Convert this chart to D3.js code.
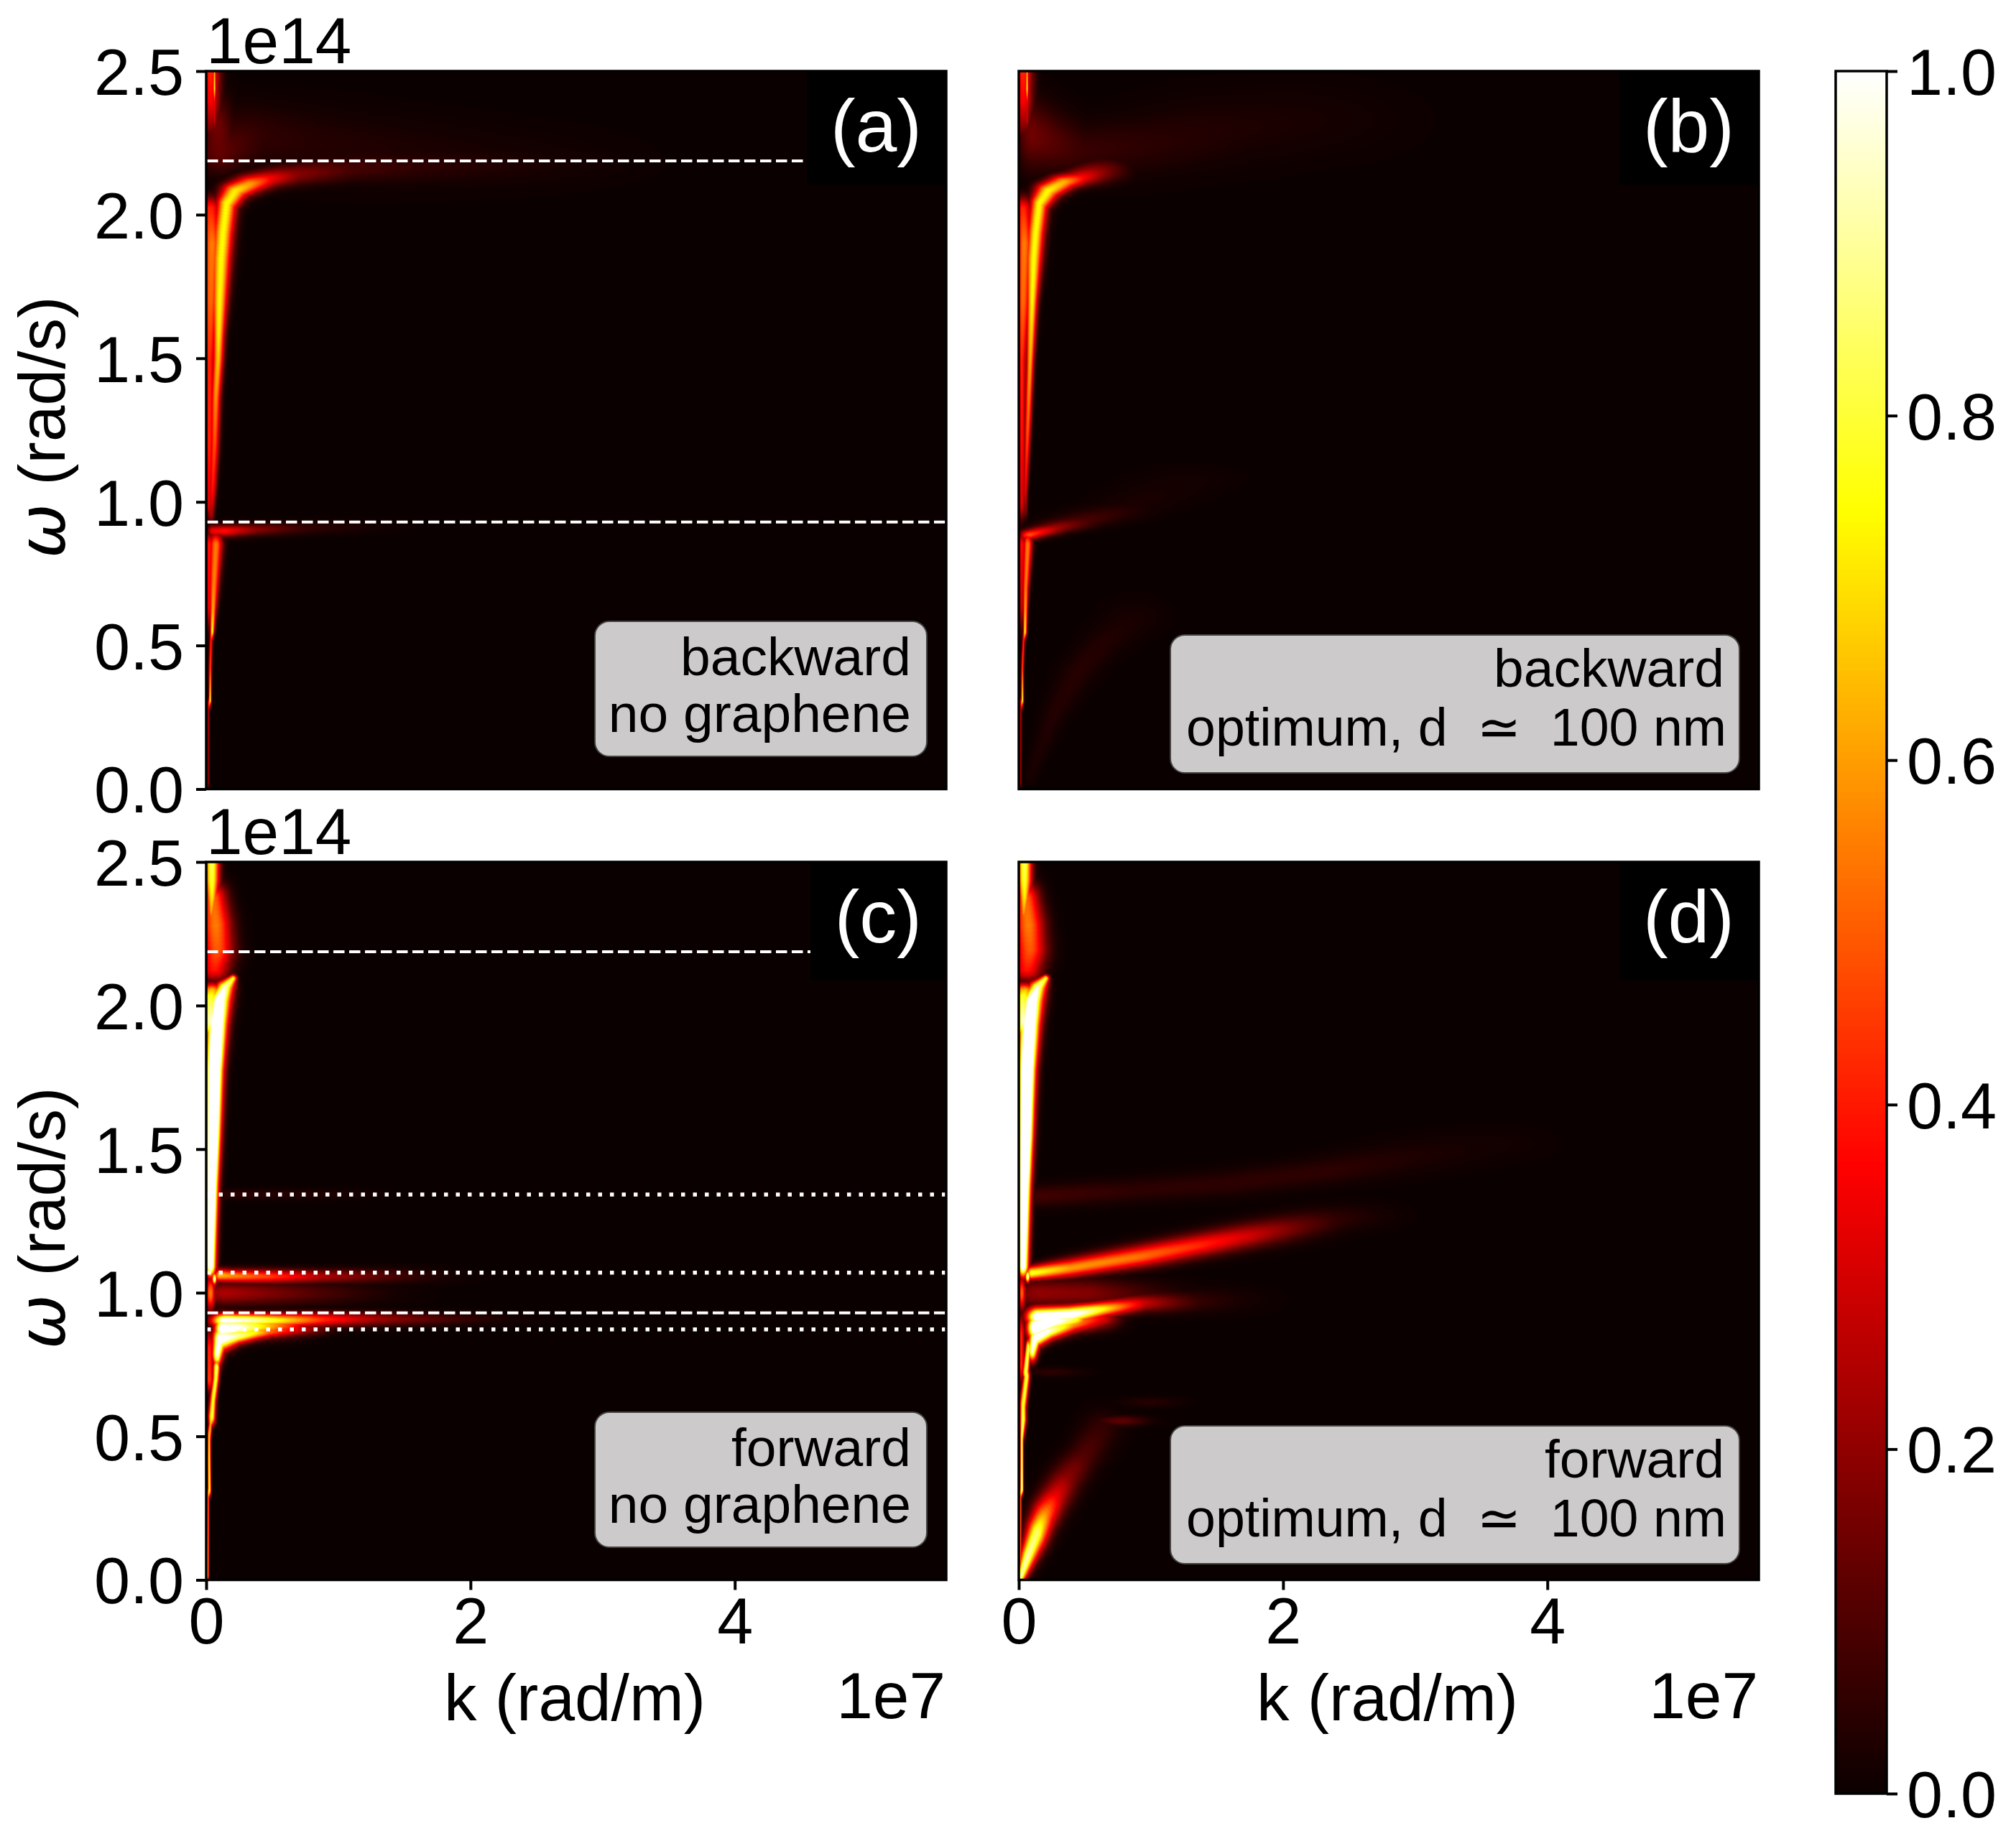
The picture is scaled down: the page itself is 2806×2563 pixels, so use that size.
<!DOCTYPE html>
<html>
<head>
<meta charset="utf-8">
<script src="https://d3js.org/d3.v7.min.js"></script>
<style>
body {margin: 0; background: white;}
text {font-family: "Liberation Sans", sans-serif; fill: black; white-space: pre;}
</style>
</head>
<body>
<svg id="chart" width="2806" height="2563"></svg>
<script>
// ticks and reference lines (k in 1e7 rad/m, omega in 1e14 rad/s)
const kTicks = [0, 2, 4];
const omegaTicks = [0, 0.5, 1, 1.5, 2, 2.5];
const cbarTicks = [0, 0.2, 0.4, 0.6, 0.8, 1];
const dashedOmega = [2.1875, 0.93];
const dottedOmega = [1.342, 1.07, 0.872];

// colormap stops ("hot")
const hotStops = [0, 0.365, 0.746, 1];
const hotColors = ["#0b0000", "#ff0000", "#ffff00", "#ffffff"];

// heat map ridges, rows are [k, omega, value, spread k, spread omega]
const backTop = [
  [[.03,2.5,.42,.05,.04],[.03,2.4,.36,.05,.04],[.03,2.33,.22,.05,.04]],
  [[.06,2.5,.6,.008,.02],[.06,2.44,.72,.007,.015],[.06,2.4,.36,.008,.02],[.06,2.33,.3,.008,.02]]
];
const aCore = [[.035,.96,.25,.016,.02],[.045,1.04,.38,.02,.02],[.06,1.2,.48,.024,.03],[.07,1.37,.58,.025,.03],[.087,1.5,.66,.027,.03],[.092,1.59,.72,.03,.03],[.098,1.7,.74,.04,.03],[.11,1.85,.75,.05,.03],[.125,1.94,.75,.052,.03],[.152,2.04,.75,.052,.024],[.22,2.085,.72,.07,.02],[.34,2.11,.58,.09,.02],[.45,2.125,.38,.1,.02],[.63,2.14,.2,.13,.024],[1,2.16,.09,.25,.03],[1.54,2.17,.05,.35,.04],[2.4,2.18,.02,.5,.05]];
const aPlateau = [[.02,1,.33,.02,.04],[.02,1.2,.42,.025,.05],[.02,1.5,.42,.035,.05],[.03,1.7,.52,.045,.05],[.04,1.9,.55,.055,.05],[.03,2.02,.42,.055,.03]];
const aHaze = [[.08,2.3,.15,.08,.08],[.1,2.22,.13,.12,.05],[.3,2.28,.06,.25,.07],[.7,2.25,.04,.35,.08],[1.3,2.22,.03,.5,.08],[2.2,2.2,.015,.6,.07]];
const aTail = [[.05,.9,.35,.03,.014],[.14,.9,.38,.07,.014],[.33,.905,.2,.12,.014],[.63,.91,.07,.2,.015],[1,.915,.025,.25,.016]];
const aPlume = [[.07,.85,.55,.035,.03],[.055,.71,.56,.025,.04],[.048,.62,.62,.016,.03],[.043,.55,.76,.01,.014],[.035,.53,.4,.008,.02],[.028,.42,.45,.008,.04],[.027,.31,.76,.006,.01],[.014,.29,.25,.005,.02],[.012,.03,.2,.005,.02]];
const aPlumeLeft = [[.02,.85,.4,.025,.03],[.02,.65,.35,.02,.06]];

const bCore = [[.047,.97,.18,.012,.02],[.047,1.04,.33,.013,.02],[.065,1.26,.5,.017,.03],[.082,1.48,.62,.019,.03],[.098,1.7,.74,.028,.03],[.11,1.85,.75,.042,.03],[.125,1.94,.75,.044,.03],[.152,2.04,.75,.046,.024],[.22,2.085,.74,.065,.02],[.337,2.115,.63,.08,.017],[.445,2.127,.4,.09,.018],[.625,2.155,.16,.13,.028]];
const bHaze = [[.1,2.28,.15,.08,.08],[.4,2.22,.07,.2,.06],[.99,2.25,.045,.3,.07],[1.53,2.3,.03,.4,.08],[2.08,2.33,.02,.5,.08]];
const bPlateau = [[.02,1,.33,.015,.04],[.02,1.2,.38,.018,.05],[.02,1.5,.42,.025,.05],[.03,1.7,.52,.04,.05],[.04,1.9,.55,.045,.05],[.03,2.02,.42,.05,.03]];
const bTail = [[.05,.885,.4,.03,.012],[.08,.887,.48,.05,.012],[.266,.91,.23,.1,.012],[.445,.933,.1,.15,.014],[.81,.98,.025,.2,.02],[1.26,1.08,.012,.25,.03]];
const bPlume = [[.065,.85,.55,.024,.03],[.05,.71,.55,.016,.04],[.047,.62,.62,.012,.03],[.045,.55,.74,.009,.014],[.035,.53,.4,.006,.02],[.025,.42,.45,.006,.04],[.025,.31,.76,.005,.01],[.012,.29,.25,.004,.02],[.01,.03,.2,.004,.02]];
const bPlumeLeft = [[.02,.85,.38,.018,.03],[.02,.65,.3,.014,.06]];
const bDiag = [[.08,.045,.02,.03,.02],[.266,.265,.035,.06,.03],[.445,.41,.04,.09,.03],[.625,.505,.035,.1,.03],[.87,.6,.02,.15,.04]];

const fwdBand = [[.03,1.1,1.15,.028,.03],[.035,1.25,1.3,.03,.03],[.04,1.38,1.4,.032,.03],[.05,1.55,1.55,.036,.03],[.06,1.78,1.55,.042,.03],[.08,1.94,1.35,.05,.03],[.1,2.02,1.15,.055,.02],[.14,2.065,.95,.045,.016],[.2,2.095,.78,.02,.009]];
const fwdPlateau = [[.03,1.95,.95,.05,.05],[.03,2.03,.8,.06,.025],[.04,2.05,.68,.06,.02]];
const fwdBlob = [[.06,2.13,.4,.08,.03],[.08,2.2,.5,.085,.05],[.07,2.28,.55,.08,.05],[.05,2.37,.52,.07,.04]];
const fwdTop = [[.04,2.5,.84,.038,.03],[.04,2.44,.8,.038,.03],[.04,2.38,.72,.028,.03],[.035,2.33,.6,.018,.03]];

const cSpot = [[.06,1.05,.95,.012,.014]];
const cBand106 = [[.1,1.062,.65,.03,.015],[.18,1.06,.58,.08,.015],[.45,1.058,.46,.15,.016],[.81,1.058,.26,.2,.016],[1.36,1.06,.07,.3,.018]];
const cLeft = [[.03,1,.55,.025,.04]];
const cDark = [[.15,1,.24,.15,.028],[.5,1,.16,.25,.028],[1,1,.05,.3,.028]];
const cUpper = [[.14,.905,1.05,.07,.016],[.36,.905,.92,.12,.016],[.54,.905,.75,.14,.016],[.81,.908,.45,.2,.017],[1.17,.91,.25,.25,.016],[1.72,.91,.07,.35,.014]];
const cFill = [[.12,.875,1.1,.04,.03],[.25,.88,1,.07,.025],[.4,.885,.75,.1,.025],[.6,.89,.45,.12,.025]];
const cLower = [[.08,.79,1,.025,.03],[.1,.84,1.1,.035,.03],[.22,.85,.95,.05,.018],[.36,.862,.75,.07,.016],[.45,.866,.55,.08,.015],[.72,.875,.25,.13,.015]];
const cStem = [[.075,.74,.85,.018,.02],[.07,.7,.82,.016,.015],[.05,.63,.78,.016,.02],[.04,.57,.82,.018,.02],[.03,.543,.6,.01,.01],[.02,.5,.7,.008,.03],[.02,.425,.76,.008,.04],[.022,.315,.85,.008,.015],[.012,.3,.5,.004,.02],[.008,.02,.65,.004,.02]];
const cStemLeft = [[.02,.8,.42,.025,.05],[.02,.7,.45,.025,.03]];
const cFaint = [[.2,1.344,.05,.1,.012],[.8,1.344,.03,.3,.012]];

const dRidge1 = [[.096,1.07,.8,.03,.016],[.386,1.0875,.6,.08,.021],[.875,1.125,.54,.15,.023],[1.36,1.1675,.42,.15,.025],[1.72,1.2,.3,.15,.027],[2.09,1.233,.14,.15,.03],[2.33,1.255,.06,.15,.03],[2.57,1.27,.025,.2,.03]];
const dRidge2 = [[.145,1.3375,.08,.08,.025],[.875,1.358,.05,.2,.028],[1.6,1.383,.05,.2,.03],[2.33,1.425,.05,.2,.03],[3.05,1.483,.025,.25,.04],[3.54,1.52,.012,.3,.04]];
const dSpot = [[.065,1.058,1,.012,.014]];
const dLeft = [[.02,1,.5,.02,.04]];
const dDark = [[.15,1,.2,.15,.035],[.5,1,.18,.2,.035],[.9,.99,.07,.25,.035]];
const dBlob = [[.145,.9175,1.15,.06,.022],[.386,.925,1.1,.1,.02],[.6,.9425,.8,.09,.017],[.78,.955,.5,.09,.018],[.92,.965,.3,.09,.02],[1.2,.97,.08,.2,.025],[1.45,.975,.03,.25,.03]];
const dFill = [[.12,.88,1.2,.04,.03],[.25,.9,1.1,.07,.025],[.4,.91,.85,.09,.022]];
const dLobe = [[.1,.8,.95,.025,.025],[.12,.8425,1.1,.03,.022],[.22,.8675,1,.045,.02],[.386,.8925,.65,.07,.02],[.6,.915,.35,.1,.025]];
const dStem = [[.07,.81,.85,.014,.02],[.05,.725,.85,.016,.02],[.057,.71,.82,.016,.02],[.03,.61,.8,.016,.03],[.03,.56,.85,.016,.02],[.02,.5,.85,.008,.03],[.02,.4,.9,.008,.03],[.02,.317,1,.008,.012],[.01,.3,.5,.004,.02],[.01,.02,.5,.004,.02]];
const dStemLeft = [[.015,.85,.42,.018,.05],[.015,.75,.42,.018,.04]];
const dDiag = [[.01,.01,.9,.018,.02],[.065,.0825,.92,.036,.03],[.137,.167,.85,.052,.04],[.19,.225,.6,.062,.04],[.266,.283,.36,.07,.04],[.355,.35,.2,.08,.04],[.48,.425,.11,.08,.04],[.625,.53,.06,.1,.04]];
const dFaint = [[.77,.555,.12,.13,.012]];
const dFaint2 = [[.99,.62,.04,.15,.012]];
const dFaint3 = [[.25,.725,.05,.15,.01]];
const dFaint4 = [[.48,.425,.09,.12,.006]];

const ridgesA = [...backTop, aHaze, aPlateau, aCore, aTail, aPlumeLeft, aPlume];
const ridgesB = [...backTop, bHaze, bPlateau, bCore, bTail, bPlumeLeft, bPlume, bDiag];
const ridgesC = [fwdTop, fwdBlob, fwdBand, fwdPlateau, cSpot, cBand106, cLeft, cDark, cUpper, cFill, cLower, cStem, cStemLeft, cFaint];
const ridgesD = [fwdTop, fwdBlob, fwdBand, fwdPlateau, dSpot, dRidge1, dRidge2, dLeft, dDark, dBlob, dFill, dLobe, dStem, dStemLeft, dDiag, dFaint, dFaint2, dFaint3, dFaint4];

const panels = [
  {id: "(a)", ridges: ridgesA, left: 287, top: 99, note: ["backward", "no graphene"], lines: true, yAxis: true, xAxis: false},
  {id: "(b)", ridges: ridgesB, left: 1418, top: 99, note: ["backward", "optimum, d"], lines: false, yAxis: false, xAxis: false},
  {id: "(c)", ridges: ridgesC, left: 287, top: 1200, note: ["forward", "no graphene"], lines: true, dots: true, yAxis: true, xAxis: true},
  {id: "(d)", ridges: ridgesD, left: 1418, top: 1200, note: ["forward", "optimum, d"], lines: false, yAxis: false, xAxis: true}
];

const panelW = 1030, panelH = 999.5;
const svg = d3.select("#chart");

const hot = d3.scaleLinear().domain(hotStops).range(hotColors).clamp(true);
const hotTable = d3.range(256).map(i => d3.rgb(hot(i / 255)));

// paints the ridges into a value field, then to an image through the colour scale
function heatImage(ridges, xs, ys, w, h) {
  const field = new Float32Array(w * h);
  const pxK = xs(1) - xs(0), pxW = ys(0) - ys(1);
  const x0 = xs.range()[0], y0 = ys.range()[1];
  function stamp(x, y, v, sx, sy) {
    const rx = Math.ceil(sx * 3.2), ry = Math.ceil(sy * 3.2);
    const a = Math.max(0, Math.floor(x - rx)), b = Math.min(w - 1, Math.ceil(x + rx));
    const c = Math.max(0, Math.floor(y - ry)), d = Math.min(h - 1, Math.ceil(y + ry));
    for (let j = c; j <= d; j++) {
      const dy = (j - y) / sy;
      for (let i = a; i <= b; i++) {
        const dx = (i - x) / sx;
        const f = v * Math.exp(-(dx * dx + dy * dy) / 2);
        const n = j * w + i;
        if (f > field[n]) field[n] = f;
      }
    }
  }
  ridges.forEach(rows => {
    rows.forEach((p, r) => {
      const q = rows[Math.min(r + 1, rows.length - 1)];
      const ax = xs(p[0]) - x0, ay = ys(p[1]) - y0, bx = xs(q[0]) - x0, by = ys(q[1]) - y0;
      const sMin = Math.min(Math.max(p[3] * pxK, 1.2), Math.max(p[4] * pxW, 1.2), Math.max(q[3] * pxK, 1.2), Math.max(q[4] * pxW, 1.2));
      const n = Math.max(1, Math.ceil(Math.hypot(bx - ax, by - ay) / Math.max(1, sMin / 2)));
      for (let s = 0; s <= n; s++) {
        const t = s / n;
        stamp(ax + (bx - ax) * t, ay + (by - ay) * t, p[2] + (q[2] - p[2]) * t,
          Math.max((p[3] + (q[3] - p[3]) * t) * pxK, 1.2), Math.max((p[4] + (q[4] - p[4]) * t) * pxW, 1.2));
      }
    });
  });
  const canvas = document.createElement("canvas");
  canvas.width = w; canvas.height = h;
  const ctx = canvas.getContext("2d");
  const img = ctx.createImageData(w, h);
  for (let n = 0; n < w * h; n++) {
    const c = hotTable[Math.min(255, Math.round(field[n] * 255))];
    img.data[n * 4] = c.r; img.data[n * 4 + 1] = c.g; img.data[n * 4 + 2] = c.b; img.data[n * 4 + 3] = 255;
  }
  ctx.putImageData(img, 0, 0);
  return canvas.toDataURL();
}

panels.forEach(p => {
  const xs = d3.scaleLinear().domain([0, 5.6]).range([p.left, p.left + panelW]);
  const ys = d3.scaleLinear().domain([0, 2.5]).range([p.top + panelH, p.top]);
  const g = svg.append("g");
  g.append("image")
    .attr("x", p.left).attr("y", p.top)
    .attr("width", panelW).attr("height", Math.ceil(panelH))
    .attr("href", heatImage(p.ridges, xs, ys, panelW, Math.ceil(panelH)));

  if (p.lines) {
    g.selectAll(".dash").data(dashedOmega).enter().append("line")
      .attr("x1", xs(0) + 1).attr("x2", xs(5.6))
      .attr("y1", d => ys(d)).attr("y2", d => ys(d))
      .attr("stroke", "white").attr("stroke-width", 4).attr("stroke-dasharray", "15.5 6.5");
  }
  if (p.dots) {
    g.selectAll(".dot").data(dottedOmega).enter().append("line")
      .attr("x1", xs(0) + 1).attr("x2", xs(5.6))
      .attr("y1", d => ys(d)).attr("y2", d => ys(d))
      .attr("stroke", "white").attr("stroke-width", 5.5).attr("stroke-dasharray", "5.5 11");
  }

  // panel letter on its black box
  const tall = p.top > 500;
  const wide = p.id === "(c)" ? 189 : 194;
  g.append("rect").attr("x", p.left + panelW - wide).attr("y", p.top)
    .attr("width", wide).attr("height", tall ? 165 : 158).attr("fill", "black");
  g.append("text").attr("x", p.left + panelW - 34).attr("y", p.top + 112)
    .attr("text-anchor", "end").attr("font-size", 104).style("fill", "white").text(p.id);

  // note box
  const opt = p.note[1].startsWith("optimum");
  g.append("rect")
    .attr("x", p.left + (opt ? 211 : 541)).attr("y", p.top + (opt ? 785 : 766))
    .attr("width", opt ? 792 : 462).attr("height", opt ? 192 : 188)
    .attr("rx", 20).attr("fill", "#cccacb").attr("stroke", "#444").attr("stroke-width", 2);
  const right = p.left + (opt ? 985 : 981);
  g.append("text").attr("x", right - (opt ? 3 : 0)).attr("y", p.top + (opt ? 857 : 841)).attr("text-anchor", "end").attr("font-size", 75).text(p.note[0]);
  const second = g.append("text").attr("x", right).attr("y", p.top + (opt ? 939 : 920)).attr("text-anchor", "end").attr("font-size", opt ? 73.5 : 75);
  if (opt) {
    second.append("tspan").text("optimum, d  ");
    second.append("tspan").style("font-family", "DejaVu Sans").text("\u2243");
    second.append("tspan").text("  100 nm");
  } else {
    second.text(p.note[1]);
  }

  // frame
  g.append("rect").attr("x", p.left).attr("y", p.top).attr("width", panelW).attr("height", panelH)
    .attr("fill", "none").attr("stroke", "black").attr("stroke-width", 3.5);

  // axes
  if (p.yAxis) {
    const ax = g.append("g").attr("transform", `translate(${p.left},0)`)
      .call(d3.axisLeft(ys).tickValues(omegaTicks).tickSize(14).tickPadding(17).tickFormat(d3.format(".1f")));
    ax.select(".domain").remove();
    ax.selectAll("line").attr("stroke", "black").attr("stroke-width", 4);
    ax.selectAll("text").attr("font-size", 90).attr("dy", "0.36em").style("font-family", "Liberation Sans");
    g.append("text").attr("x", p.left).attr("y", p.top - 11).attr("font-size", 91).text("1e14");
    const lab = g.append("text").attr("transform", `translate(90,${p.top + 496}) rotate(-90)`).attr("text-anchor", "middle").attr("font-size", 91);
    lab.append("tspan").style("font-family", "DejaVu Sans").style("font-style", "italic").text("\u03c9");
    lab.append("tspan").text(" (rad/s)");
  }
  if (p.xAxis) {
    const ax = g.append("g").attr("transform", `translate(0,${p.top + panelH})`)
      .call(d3.axisBottom(xs).tickValues(kTicks).tickSize(14).tickPadding(11).tickFormat(d3.format("d")));
    ax.select(".domain").remove();
    ax.selectAll("line").attr("stroke", "black").attr("stroke-width", 4);
    ax.selectAll("text").attr("font-size", 90).attr("dy", "0.71em").style("font-family", "Liberation Sans");
    g.append("text").attr("x", p.left + 513).attr("y", 2395).attr("text-anchor", "middle").attr("font-size", 91).text("k (rad/m)");
    g.append("text").attr("x", p.left + panelW - 1).attr("y", 2392).attr("text-anchor", "end").attr("font-size", 91).text("1e7");
  }
});

// colour bar
const cs = d3.scaleLinear().domain([0, 1]).range([2497, 99]);
const cbar = svg.append("g");
cbar.selectAll("rect").data(d3.range(256)).enter().append("rect")
  .attr("x", 2555).attr("width", 71)
  .attr("y", d => cs((d + 1) / 256)).attr("height", d => cs(d / 256) - cs((d + 1) / 256) + 1)
  .attr("fill", d => hot((d + 0.5) / 256));
cbar.append("rect").attr("x", 2555).attr("y", 99).attr("width", 71).attr("height", 2398)
  .attr("fill", "none").attr("stroke", "black").attr("stroke-width", 3.5);
const cax = cbar.append("g").attr("transform", "translate(2626,0)")
  .call(d3.axisRight(cs).tickValues(cbarTicks).tickSize(15).tickPadding(13).tickFormat(d3.format(".1f")));
cax.select(".domain").remove();
cax.selectAll("line").attr("stroke", "black").attr("stroke-width", 4);
cax.selectAll("text").attr("font-size", 90).attr("dy", "0.36em").style("font-family", "Liberation Sans");
</script>
</body>
</html>
